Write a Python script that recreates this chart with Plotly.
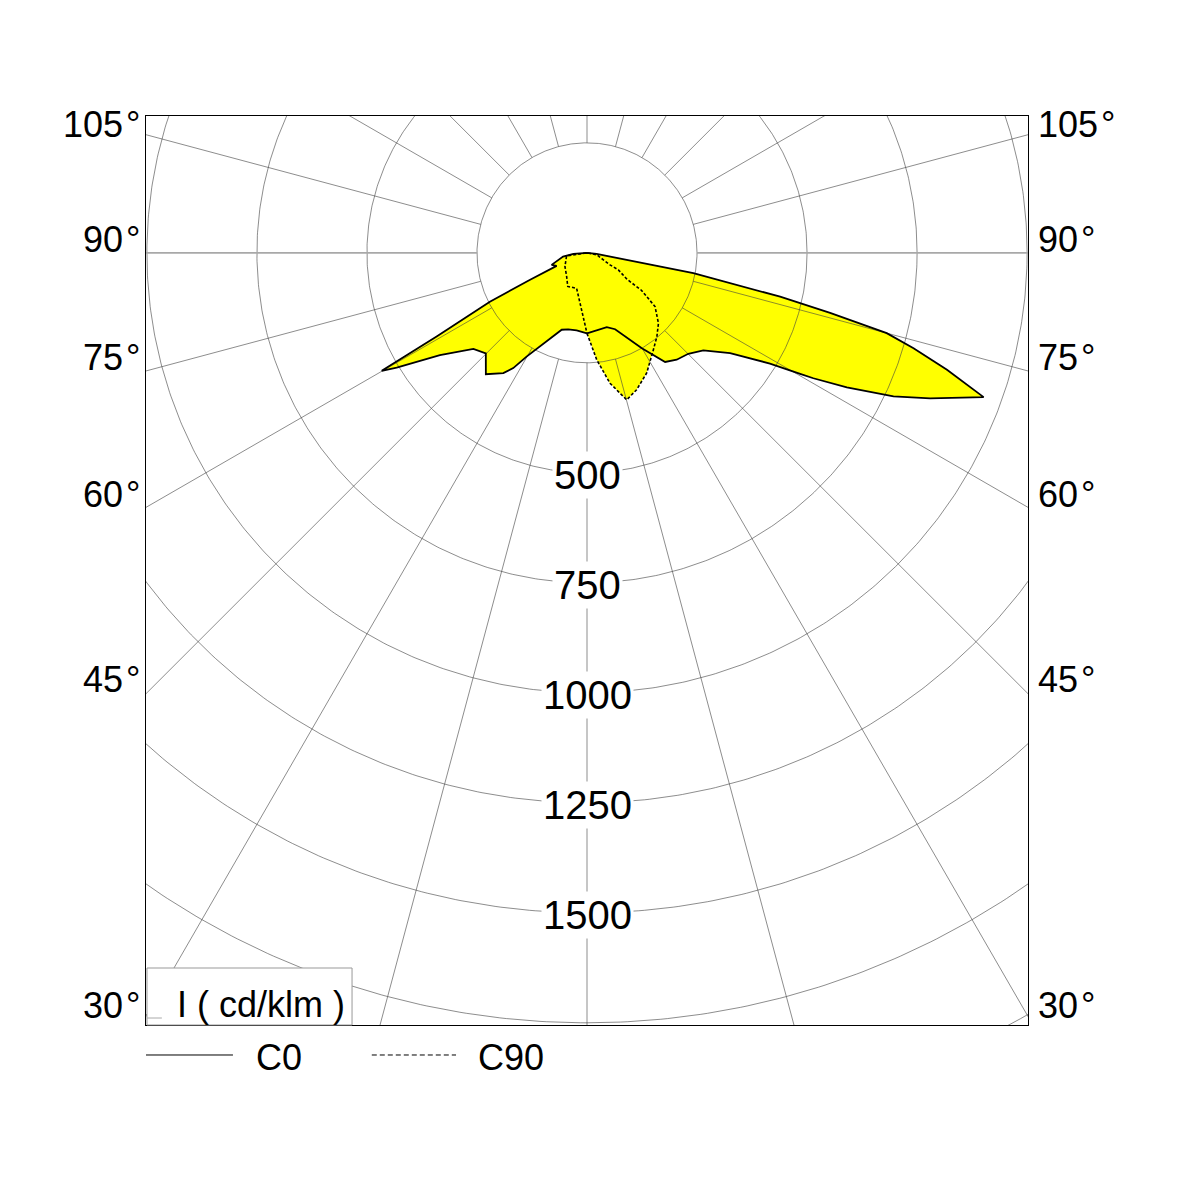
import numpy as np
import plotly.graph_objects as go

# ---------------- data (angle from nadir in degrees, intensity in cd/klm) ----------------
c0_theta = [0, 14.9, 20.2, 29.9, 35.6, 40.0, 45.1, 50.0, 55.0, 56.4, 58.8, 60.4, 61.0, 62.6, 64.9,
            67.0, 69.1, 70.0, 72.0, 73.7, 75.0, 75.5, 76.1, 77.2, 79.2, 81.3, 84.1, 90, 180]
c0_int = [183, 175, 185, 250, 305, 317, 325, 345, 397, 426, 486, 557, 588, 665, 769,
          847, 924, 959, 860, 773, 705, 633, 569, 450, 246, 45, 22, 0, 0]

c180_theta = [0, 7.6, 13.8, 18.2, 20.7, 26.6, 30.2, 32.6, 34.8, 39.8, 45.2, 49.8, 52.2, 55.2, 58.9,
              60.1, 60.9, 63.3, 64.7, 66.8, 71.2, 81.1, 85.8, 90, 180]
c180_int = [183, 178, 179, 184, 195, 238, 273, 311, 333, 359, 324, 338, 366, 407, 505,
            538, 391, 247, 143, 75, 85, 55, 31, 0, 0]

c90_theta = [0, 5.2, 10.0, 15.1, 19.9, 26.4, 34.4, 39.8, 45.4, 51.7, 55.5, 56.5, 61.5, 62.4, 78.3, 90, 180]
c90_int = [183, 244, 301, 346, 331, 305, 267, 248, 228, 197, 150, 109, 81, 59, 23, 0, 0]

c270_theta = [0, 1.6, 7.9, 16.3, 29.8, 40.6, 58.1, 81.6, 90, 180]
c270_int = [183, 168, 115, 84, 88, 71, 59, 47, 0, 0]

circle_values = [250, 500, 750, 1000, 1250, 1500, 1750, 2000, 2250]
circle_labels = [500, 750, 1000, 1250, 1500]
radial_angles = list(range(0, 181, 15))
angle_labels = [105, 90, 75, 60, 45, 30]
legend_names = ["C0", "C90"]
unit_label = "I ( cd/klm )"

# ---------------- helpers ----------------
def half(theta, inten, side):
    t = np.radians(np.asarray(theta, float))
    r = np.asarray(inten, float)
    return side * r * np.sin(t), -r * np.cos(t)


def closed_curve(th_r, i_r, th_l, i_l):
    xr, yr = half(th_r, i_r, 1)
    xl, yl = half(th_l, i_l, -1)
    x = np.concatenate([xr, xl[::-1]])
    y = np.concatenate([yr, yl[::-1]])
    return x, y


X0, Y0 = closed_curve(c0_theta, c0_int, c180_theta, c180_int)
X90, Y90 = closed_curve(c90_theta, c90_int, c270_theta, c270_int)

FONT = "Liberation Sans, Arial, Helvetica, sans-serif"
YELLOW = "#FFFF00"
GRID = "#404040"

fig = go.Figure()

# fills
for X, Y in [(X0, Y0), (X90, Y90)]:
    fig.add_trace(go.Scatter(x=X, y=Y, mode="lines", fill="toself", fillcolor=YELLOW,
                             line=dict(width=0, color=YELLOW), hoverinfo="skip", showlegend=False))

# grid circles
gx, gy = [], []
t = np.linspace(0, 2 * np.pi, 721)
for R in circle_values:
    gx += list(R * np.cos(t)) + [None]
    gy += list(R * np.sin(t)) + [None]
# radial lines (except 90)
r_in, r_out = circle_values[0], 4000
for a in radial_angles:
    if a == 90:
        continue
    sides = [1] if a in (0, 180) else [1, -1]
    for s in sides:
        ar = np.radians(a)
        gx += [s * r_in * np.sin(ar), s * r_out * np.sin(ar), None]
        gy += [-r_in * np.cos(ar), -r_out * np.cos(ar), None]
fig.add_trace(go.Scatter(x=gx, y=gy, mode="lines", line=dict(color=GRID, width=0.6),
                         hoverinfo="skip", showlegend=False))
# 90 deg horizontal line
hx, hy = [], []
for s in (1, -1):
    hx += [s * r_in, s * r_out, None]
    hy += [0, 0, None]
fig.add_trace(go.Scatter(x=hx, y=hy, mode="lines", line=dict(color="#a8a8a8", width=1.6),
                         hoverinfo="skip", showlegend=False))

# outlines
fig.add_trace(go.Scatter(x=X90, y=Y90, mode="lines", line=dict(color="black", width=1.6, dash="3px,2px"),
                         hoverinfo="skip", showlegend=False))
fig.add_trace(go.Scatter(x=X0, y=Y0, mode="lines", line=dict(color="black", width=1.8),
                         hoverinfo="skip", showlegend=False))

annotations = []
# circle labels
for v in circle_labels:
    annotations.append(dict(x=0, y=-v, xref="x", yref="y", text=str(v), showarrow=False,
                            font=dict(family=FONT, size=40, color="black"),
                            bgcolor="white", borderpad=1, xanchor="center", yanchor="middle",
                            yshift=-2))
# angle labels both sides
XB = 1002
label_shift = {105: 10, 90: 13, 75: 13, 60: 13, 45: 14, 30: 11}
for a in angle_labels:
    if a == 90:
        yv = 0.0
    else:
        yv = -XB / np.tan(np.radians(a))
    txt = f"{a}\u200a°"
    ys = label_shift[a]
    annotations.append(dict(x=0, y=yv, xref="paper", yref="y", text=txt, showarrow=False,
                            font=dict(family=FONT, size=36, color="black"),
                            xanchor="right", yanchor="middle", xshift=-4, yshift=ys))
    annotations.append(dict(x=1, y=yv, xref="paper", yref="y", text=txt, showarrow=False,
                            font=dict(family=FONT, size=36, color="black"),
                            xanchor="left", yanchor="middle", xshift=8, yshift=ys))

# unit label box
annotations.append(dict(x=0.130, y=0.0231, xref="paper", yref="paper", text=unit_label, showarrow=False,
                        font=dict(family=FONT, size=36, color="black"), xanchor="center", yanchor="middle"))
# legend texts
annotations.append(dict(x=0.1224, y=-0.0363, xref="paper", yref="paper", text=legend_names[0], showarrow=False,
                        font=dict(family=FONT, size=36, color="black"), xanchor="left", yanchor="middle"))
annotations.append(dict(x=0.3747, y=-0.0363, xref="paper", yref="paper", text=legend_names[1], showarrow=False,
                        font=dict(family=FONT, size=36, color="black"), xanchor="left", yanchor="middle"))

shapes = [
    dict(type="rect", xref="paper", yref="paper", x0=0.0011, x1=0.2336, y0=0.0, y1=0.0627,
         fillcolor="white", line=dict(color="#999999", width=1), layer="above"),
    dict(type="line", xref="paper", yref="paper", x0=0.001, x1=0.018, y0=0.0077, y1=0.0077,
         line=dict(color="#aaaaaa", width=1), layer="above"),
    dict(type="line", xref="paper", yref="paper", x0=0.0, x1=0.0986, y0=-0.033, y1=-0.033,
         line=dict(color="black", width=1)),
    dict(type="line", xref="paper", yref="paper", x0=0.256, x1=0.3515, y0=-0.033, y1=-0.033,
         line=dict(color="black", width=1, dash="5px,3px")),
]

axis_common = dict(showgrid=False, zeroline=False, showticklabels=False, ticks="",
                   showline=True, mirror=True, linecolor="black", linewidth=1.2)

fig.update_layout(
    width=1181, height=1181,
    margin=dict(l=146, r=153, t=116, b=156),
    paper_bgcolor="white", plot_bgcolor="white",
    xaxis=dict(range=[-1002, 1002], **axis_common),
    yaxis=dict(range=[-1755, 311], **axis_common),
    annotations=annotations, shapes=shapes, showlegend=False,
)

fig.write_html("out.html")
